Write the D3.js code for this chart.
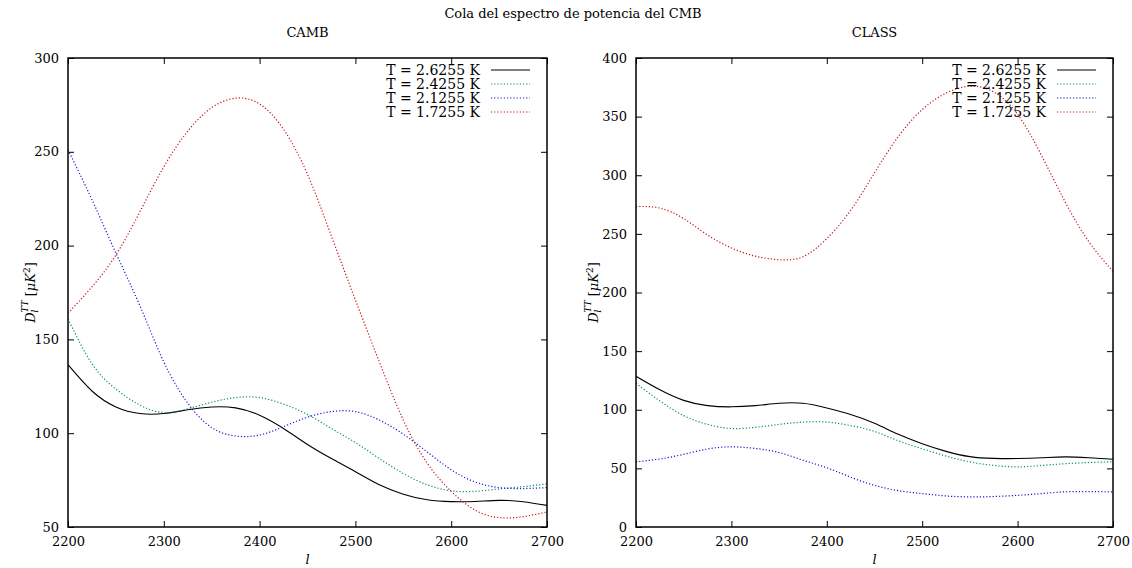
<!DOCTYPE html>
<html>
<head>
<meta charset="utf-8">
<script src="https://cdn.jsdelivr.net/npm/d3@7"></script>
<style>
  body { margin: 0; background: #fff; }
  svg { display: block; }
  text { font-family: "DejaVu Serif", serif; fill: #000; }
</style>
</head>
<body>
<svg id="chart" width="1132" height="568"></svg>
<script>
// multipole values, shared by every curve
const ells = [2200, 2225, 2250, 2275, 2300, 2325, 2350, 2375, 2400, 2425, 2450,
              2475, 2500, 2525, 2550, 2575, 2600, 2625, 2650, 2675, 2700];

const temps = ["T = 2.6255 K", "T = 2.4255 K", "T = 2.1255 K", "T = 1.7255 K"];
const colors = ["#000000", "#00935a", "#1a1acc", "#c81414"];

// CAMB
const camb26 = [136.5, 122.5, 114, 110.5, 110.5, 112.5, 114, 113.5, 109.6, 102.5, 94,
                86.5, 79.5, 72.5, 67.5, 64.5, 63.5, 63.6, 64.2, 63.5, 61.5];
const camb24 = [161, 137, 123.5, 115, 111, 113, 116.5, 119, 119, 115.5, 110,
                102.5, 95, 86.5, 78.5, 72.5, 69.3, 69, 70.3, 71.5, 73];
const camb21 = [251, 224.5, 196, 168, 138, 116, 103, 98.5, 99, 103.5, 108.5,
                111.5, 111.5, 107, 99.5, 90, 80.5, 74, 71, 70.5, 71];
const camb17 = [164, 178, 195, 218, 242, 261, 273.5, 278.6, 275.5, 262, 238,
                205, 171, 138, 107, 84, 69, 59, 55, 55.5, 58];

// CLASS
const class26 = [128.5, 117, 108, 103.5, 102.5, 103.5, 105.5, 105.5, 101.5, 96, 88.5,
                 79, 71, 64.5, 60, 58.5, 58.4, 59, 59.8, 59, 57.8];
const class24 = [122.5, 107.5, 95, 87.5, 84, 85, 87.5, 89.5, 89.5, 86.5, 81.5,
                 73.5, 66.7, 60.5, 55.5, 52.5, 51.3, 52.5, 54, 55, 55.6];
const class21 = [55.6, 58, 62, 66.5, 68.4, 67, 63.5, 57, 50.5, 42.5, 35.5,
                 31, 28.5, 26.5, 25.7, 26, 27, 28.5, 30, 30.2, 30];
const class17 = [273.3, 272, 263, 249, 238, 231, 228, 230.5, 246, 270, 302,
                 333, 356, 370, 376, 371, 352, 317, 277, 243, 218];

const xTicks = [2200, 2300, 2400, 2500, 2600, 2700];
const cambTicks = [50, 100, 150, 200, 250, 300];
const classTicks = [0, 50, 100, 150, 200, 250, 300, 350, 400];

const svg = d3.select("#chart");

svg.append("text")
  .attr("x", 573).attr("y", 18)
  .attr("text-anchor", "middle")
  .style("font-size", "13px")
  .text("Cola del espectro de potencia del CMB");

function panel({ title, left, right, series, yDomain, yTicks, labelX }) {
  const top = 58, bottom = 527;
  const x = d3.scaleLinear().domain([2200, 2700]).range([left, right]);
  const y = d3.scaleLinear().domain(yDomain).range([bottom, top]);
  const g = svg.append("g");

  g.append("text")
    .attr("x", (left + right) / 2).attr("y", 37)
    .attr("text-anchor", "middle")
    .style("font-size", "13px")
    .text(title);

  // clip for the curves
  const clipId = "clip-" + title;
  g.append("clipPath").attr("id", clipId)
    .append("rect").attr("x", left).attr("y", top)
    .attr("width", right - left).attr("height", bottom - top);

  const line = d3.line()
    .x((d, i) => x(ells[i]))
    .y(d => y(d))
    .curve(d3.curveNatural);

  g.append("g").attr("clip-path", `url(#${clipId})`)
    .selectAll("path")
    .data(series)
    .join("path")
    .attr("fill", "none")
    .attr("stroke", (d, i) => colors[i])
    .attr("stroke-width", (d, i) => i === 0 ? 1.1 : 1.2)
    .attr("stroke-dasharray", (d, i) => i === 0 ? null : "1.2,2")
    .attr("d", d => line(d));

  // axes: bottom/left with labels, top/right mirrored ticks
  const tick = 6;
  const fmt = d3.format("d");
  g.append("g").attr("transform", `translate(0,${bottom})`)
    .call(d3.axisBottom(x).tickValues(xTicks).tickFormat(fmt).tickSizeInner(-tick).tickSizeOuter(0).tickPadding(10));
  g.append("g").attr("transform", `translate(0,${top})`)
    .call(d3.axisTop(x).tickValues(xTicks).tickSizeInner(-tick).tickSizeOuter(0).tickFormat(""));
  g.append("g").attr("transform", `translate(${left},0)`)
    .call(d3.axisLeft(y).tickValues(yTicks).tickFormat(fmt).tickSizeInner(-tick).tickSizeOuter(0).tickPadding(9));
  g.append("g").attr("transform", `translate(${right},0)`)
    .call(d3.axisRight(y).tickValues(yTicks).tickSizeInner(-tick).tickSizeOuter(0).tickFormat(""));

  g.selectAll(".domain").remove();
  g.selectAll(".tick line").attr("stroke", "#000").attr("stroke-width", 1);
  g.selectAll(".tick text").style("font-size", "13px").style("font-family", "DejaVu Serif, serif");

  g.append("rect")
    .attr("x", left).attr("y", top)
    .attr("width", right - left).attr("height", bottom - top)
    .attr("fill", "none").attr("stroke", "#000").attr("stroke-width", 1.5);

  // axis titles
  g.append("text")
    .attr("x", (left + right) / 2).attr("y", 564)
    .attr("text-anchor", "middle")
    .style("font-size", "13px").style("font-style", "italic")
    .text("l");

  const yl = g.append("text")
    .attr("transform", `translate(${labelX},${(top + bottom) / 2}) rotate(-90)`)
    .attr("text-anchor", "middle")
    .style("font-size", "13px");
  yl.append("tspan").style("font-style", "italic").text("D");
  yl.append("tspan").style("font-style", "italic").style("font-size", "9px").attr("dy", 3).text("l");
  yl.append("tspan").style("font-style", "italic").style("font-size", "9px").attr("dx", -3).attr("dy", -10).text("TT");
  yl.append("tspan").attr("dy", 7).text(" [");
  yl.append("tspan").style("font-style", "italic").text("μK");
  yl.append("tspan").style("font-size", "9px").attr("dy", -5).text("2");
  yl.append("tspan").attr("dy", 5).text("]");

  // legend
  const leg = g.append("g");
  temps.forEach((t, i) => {
    const ly = 70 + i * 14;
    leg.append("text")
      .attr("x", right - 67).attr("y", ly + 5)
      .attr("text-anchor", "end")
      .style("font-size", "14px")
      .text(t);
    leg.append("line")
      .attr("x1", right - 56).attr("x2", right - 17)
      .attr("y1", ly).attr("y2", ly)
      .attr("stroke", colors[i])
      .attr("stroke-width", i === 0 ? 1.1 : 1.2)
      .attr("stroke-dasharray", i === 0 ? null : "1.2,2");
  });
}

panel({ title: "CAMB", left: 68, right: 547,
        series: [camb26, camb24, camb21, camb17],
        yDomain: [50, 300], yTicks: cambTicks, labelX: 35 });
panel({ title: "CLASS", left: 636, right: 1113,
        series: [class26, class24, class21, class17],
        yDomain: [0, 400], yTicks: classTicks, labelX: 598 });
</script>
</body>
</html>
